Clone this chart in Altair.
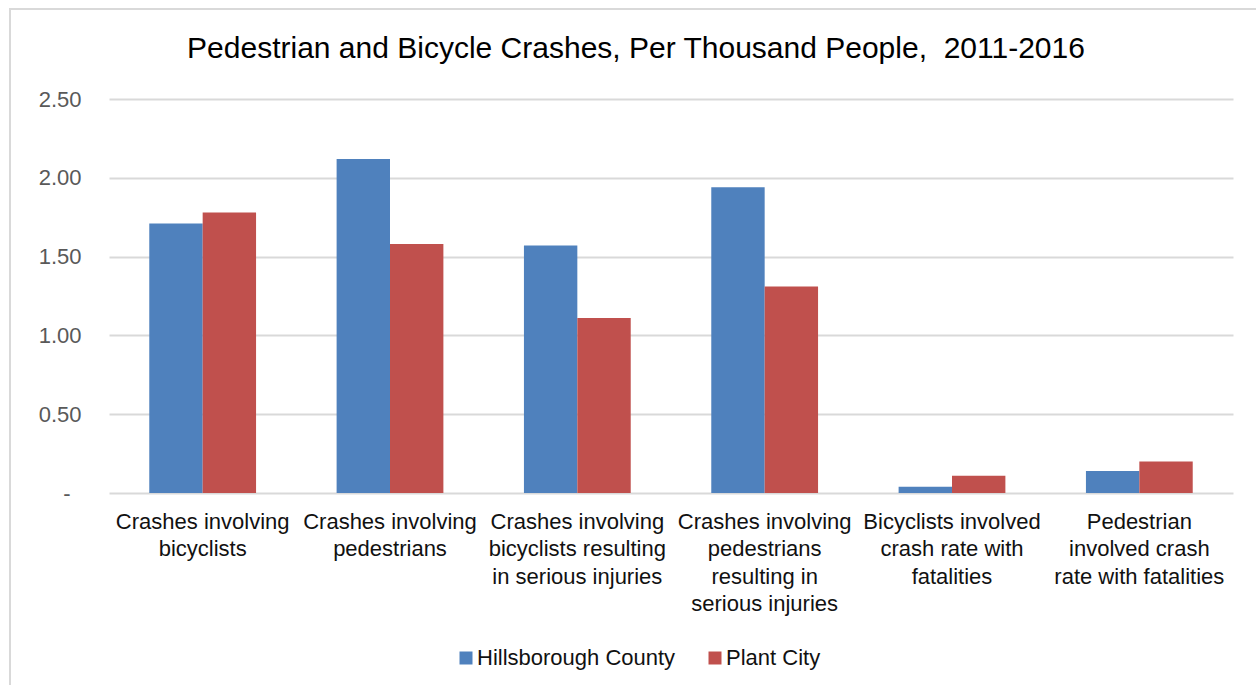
import altair as alt
import pandas as pd

# Category labels, one list of lines per category
categories = [
    ["Crashes involving", "bicyclists"],
    ["Crashes involving", "pedestrians"],
    ["Crashes involving", "bicyclists resulting", "in serious injuries"],
    ["Crashes involving", "pedestrians", "resulting in", "serious injuries"],
    ["Bicyclists involved", "crash rate with", "fatalities"],
    ["Pedestrian", "involved crash", "rate with fatalities"],
]
series = ["Hillsborough County", "Plant City"]
hillsborough = [1.71, 2.12, 1.57, 1.94, 0.04, 0.14]
plant_city = [1.78, 1.58, 1.11, 1.31, 0.11, 0.20]
colors = ["#4F81BD", "#C0504D"]
y_ticks = [0, 0.5, 1.0, 1.5, 2.0, 2.5]
title_text = "Pedestrian and Bicycle Crashes, Per Thousand People,\u00a0 2011-2016"

cat_keys = ["|".join(c) for c in categories]
rows = []
for key, h, p in zip(cat_keys, hillsborough, plant_city):
    rows.append({"category": key, "series": series[0], "value": h})
    rows.append({"category": key, "series": series[1], "value": p})
df = pd.DataFrame(rows)

W, H = 1124, 394
PAD_L, PAD_T = 109, 99

bars = alt.Chart(df).mark_bar().encode(
    x=alt.X(
        "category:N",
        sort=cat_keys,
        scale=alt.Scale(paddingInner=0.43, paddingOuter=0.215),
        axis=alt.Axis(
            title=None,
            labelExpr="split(datum.label, '|')",
            labelAngle=0,
            labelFont="Liberation Sans",
            labelFontSize=22,
            labelColor="#111111",
            labelLineHeight=27.5,
            labelPadding=18,
            labelLimit=400,
            labelOverlap=False,
            labelBound=False,
            domain=False,
            ticks=False,
            grid=False,
        ),
    ),
    xOffset=alt.XOffset("series:N", sort=series, scale=alt.Scale(paddingInner=0, paddingOuter=0)),
    y=alt.Y(
        "value:Q",
        scale=alt.Scale(domain=[0, 2.5], nice=False),
        axis=alt.Axis(
            title=None,
            values=y_ticks,
            labelExpr="datum.value == 0 ? '-' : format(datum.value, '.2f')",
            labelFont="Liberation Sans",
            labelFontSize=22,
            labelColor="#595959",
            labelPadding={"condition": {"test": "datum.value === 0", "value": 39}, "value": 28},
            domain=False,
            ticks=False,
            grid=True,
            gridColor="#d9d9d9",
            gridWidth=2,
        ),
    ),
    color=alt.Color(
        "series:N",
        sort=series,
        scale=alt.Scale(domain=series, range=colors),
        legend=alt.Legend(
            title=None,
            orient="none",
            legendX=346,
            legendY=548,
            direction="horizontal",
            symbolType="square",
            symbolSize=169,
            symbolStrokeWidth=0,
            labelFont="Liberation Sans",
            labelFontSize=22,
            labelColor="#111111",
            labelOffset=0,
            columnPadding=28,
            labelLimit=400,
        ),
    ),
)

# Chart title, centred over the whole figure
title = alt.Chart(pd.DataFrame({"title": [title_text]})).mark_text(
    font="Liberation Sans", fontSize=30, color="#000000", align="center", baseline="middle"
).encode(
    text="title:N",
    x=alt.value(636 - PAD_L),
    y=alt.value(49 - PAD_T),
)

# Outer chart frame
frame = alt.Chart(pd.DataFrame({"frame": [0]})).mark_rect(
    fill=None, stroke="#d9d9d9", strokeWidth=2
).encode(
    x=alt.value(10 - PAD_L),
    y=alt.value(9 - PAD_T),
    x2=alt.value(W + 200),
    y2=alt.value(H + 300),
)

chart = alt.layer(bars, title, frame).properties(
    width=W,
    height=H,
    autosize=alt.AutoSizeParams(type="none"),
    padding={"left": PAD_L, "top": PAD_T, "right": 1256 - PAD_L - W, "bottom": 685 - PAD_T - H},
).configure_view(stroke=None)

chart.save("out.html", embed_options={"renderer": "svg", "actions": False})
